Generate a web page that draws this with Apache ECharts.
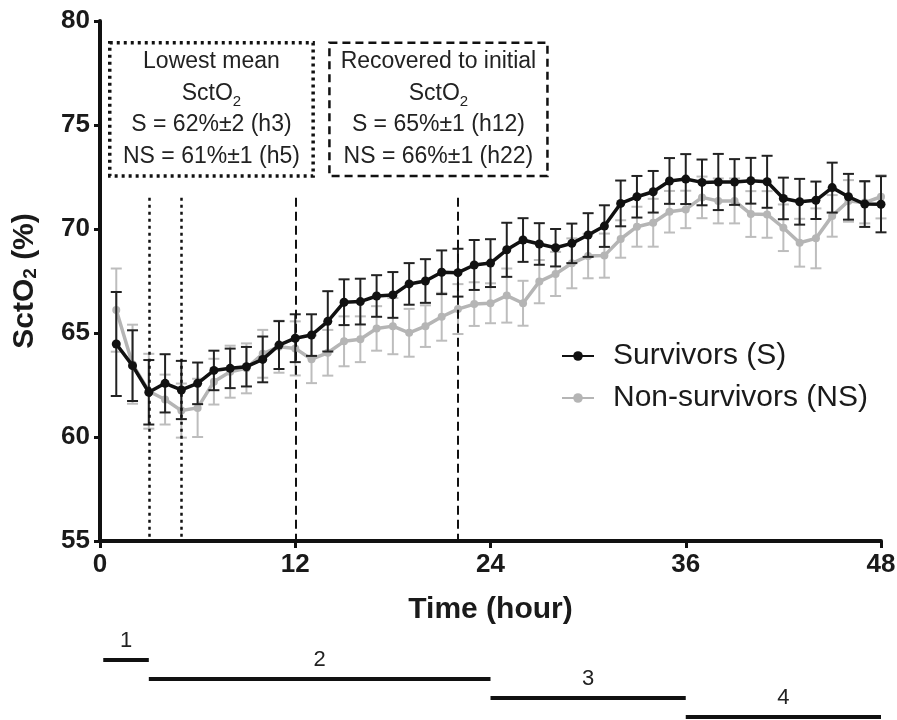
<!DOCTYPE html>
<html>
<head>
<meta charset="utf-8">
<script src="https://cdn.jsdelivr.net/npm/echarts@6/dist/echarts.min.js"></script>
<style>
  html, body { margin: 0; background: #fff; }
  #chart { width: 897px; height: 720px; }
</style>
</head>
<body>
<div id="chart"></div>
<script>
// hourly SctO2 means and SEM
const hours = [1, 2, 3, 4, 5, 6, 7, 8, 9, 10, 11, 12, 13, 14, 15, 16, 17, 18, 19, 20, 21, 22, 23, 24,
  25, 26, 27, 28, 29, 30, 31, 32, 33, 34, 35, 36, 37, 38, 39, 40, 41, 42, 43, 44, 45, 46, 47, 48];
const survMean = [64.47, 63.43, 62.15, 62.58, 62.26, 62.58, 63.2, 63.3, 63.38, 63.73, 64.42, 64.75,
  64.9, 65.56, 66.48, 66.51, 66.78, 66.83, 67.36, 67.5, 67.92, 67.9, 68.27, 68.36,
  69.0, 69.47, 69.28, 69.1, 69.31, 69.71, 70.14, 71.23, 71.55, 71.79, 72.31, 72.4,
  72.24, 72.26, 72.26, 72.32, 72.27, 71.47, 71.31, 71.38, 71.99, 71.55, 71.2, 71.19];
const survSem = [2.5, 1.7, 1.55, 1.4, 1.4, 1.0, 0.95, 0.95, 0.95, 1.1, 1.15, 1.15,
  1.0, 1.45, 1.1, 1.1, 1.0, 1.1, 1.0, 1.05, 1.05, 1.15, 1.2, 1.15,
  1.3, 1.05, 1.0, 0.9, 0.95, 1.05, 1.0, 1.1, 1.0, 1.0, 1.1, 1.2,
  1.1, 1.35, 1.1, 1.1, 1.25, 1.0, 1.1, 0.9, 1.2, 1.1, 1.1, 1.35];
const nonSurvMean = [66.1, 63.5, 62.2, 61.8, 61.27, 61.4, 62.66, 63.14, 63.3, 64.0, 64.34, 64.26,
  63.74, 64.05, 64.6, 64.7, 65.22, 65.33, 65.01, 65.33, 65.78, 66.15, 66.39, 66.43,
  66.8, 66.43, 67.47, 67.84, 68.35, 68.7, 68.72, 69.52, 70.11, 70.3, 70.83, 70.94,
  71.52, 71.35, 71.35, 70.72, 70.7, 70.06, 69.34, 69.55, 70.63, 71.35, 71.27, 71.55];
const nonSurvSem = [2.0, 1.9, 1.8, 1.2, 1.3, 1.4, 1.1, 1.25, 1.2, 1.15, 1.25, 1.3,
  1.15, 1.1, 1.2, 1.1, 1.07, 1.35, 1.15, 1.0, 1.15, 1.2, 1.05, 0.96,
  1.3, 1.08, 1.04, 1.06, 1.2, 1.07, 1.06, 0.9, 0.96, 1.15, 1.0, 0.9,
  1.0, 1.08, 1.08, 1.1, 1.12, 1.12, 1.15, 1.44, 1.0, 1.0, 1.0, 1.04];

// vertical event markers (hour, kind)
const eventHours = [3, 5, 12, 22];
const eventKinds = ['lowest', 'lowest', 'recovered', 'recovered'];
const eventTop = 71.5;

// annotation boxes in data units
const boxKinds = ['lowest', 'recovered'];
const boxX = [[0.6, 13.1], [14.1, 27.5]];
const boxY = [72.55, 78.95];
const boxText = [
  'Lowest mean\nSctO{sub|2}\nS = 62%±2 (h3)\nNS = 61%±1 (h5)',
  'Recovered to initial\nSctO{sub|2}\nS = 65%±1 (h12)\nNS = 66%±1 (h22)'
];

// phases under the time axis
const phaseNames = ['1', '2', '3', '4'];
const phaseStart = [0.2, 3, 24, 36];
const phaseEnd = [3, 24, 36, 48];
const phaseLevel = [1, 2, 3, 4];

const FONT = 'Liberation Sans, Arial, sans-serif';

const chart = echarts.init(document.getElementById('chart'));

function errData(mean, sem) {
  return hours.map((h, i) => [h, mean[i] - sem[i], mean[i] + sem[i]]);
}

function errorBars(color) {
  return function (params, api) {
    const lo = api.coord([api.value(0), api.value(1)]);
    const hi = api.coord([api.value(0), api.value(2)]);
    const w = 5.5;
    const style = { stroke: color, lineWidth: 2 };
    return {
      type: 'group',
      children: [
        { type: 'line', shape: { x1: lo[0], y1: lo[1], x2: hi[0], y2: hi[1] }, style },
        { type: 'line', shape: { x1: hi[0] - w, y1: hi[1], x2: hi[0] + w, y2: hi[1] }, style },
        { type: 'line', shape: { x1: lo[0] - w, y1: lo[1], x2: lo[0] + w, y2: lo[1] }, style }
      ]
    };
  };
}

const boxStyle = {
  lowest: { borderType: [3, 4], borderWidth: 3.5 },
  recovered: { borderType: [8, 5], borderWidth: 2.5 }
};
const eventStyle = {
  lowest: { type: [3, 4], width: 2.5 },
  recovered: { type: [9, 5], width: 2 }
};

const option = {
  animation: false,
  backgroundColor: '#fff',
  textStyle: { fontFamily: FONT },
  grid: [
    { left: 100, right: 16, top: 21, bottom: 179, outerBoundsMode: 'none', containLabel: false },
    { left: 100, right: 16, top: 641, height: 76, outerBoundsMode: 'none', containLabel: false }
  ],
  legend: {
    orient: 'vertical',
    left: 556,
    top: 336,
    itemWidth: 32,
    itemHeight: 12,
    itemGap: 12,
    data: ['Survivors (S)', 'Non-survivors (NS)'],
    textStyle: { fontSize: 30, color: '#1a1a1a', fontFamily: FONT, padding: [0, 0, 0, 14] }
  },
  xAxis: [
    {
      type: 'value', gridIndex: 0, min: 0, max: 48, interval: 12,
      name: 'Time (hour)', nameLocation: 'middle', nameGap: 54,
      nameTextStyle: { fontSize: 30, fontWeight: 'bold', color: '#1a1a1a', fontFamily: FONT },
      axisLine: { lineStyle: { color: '#111', width: 4 } },
      axisTick: { length: 7, lineStyle: { color: '#111', width: 3 } },
      axisLabel: { fontSize: 26, fontWeight: 'bold', color: '#1a1a1a', margin: 11, fontFamily: FONT },
      splitLine: { show: false }
    },
    { type: 'value', gridIndex: 1, min: 0, max: 48, show: false }
  ],
  yAxis: [
    {
      type: 'value', gridIndex: 0, min: 55, max: 80, interval: 5,
      name: 'SctO{sub|2} (%)', nameLocation: 'middle', nameGap: 60, nameRotate: 90,
      nameTextStyle: {
        fontSize: 30, fontWeight: 'bold', color: '#1a1a1a', fontFamily: FONT,
        rich: { sub: { fontSize: 19, fontWeight: 'bold', color: '#1a1a1a', fontFamily: FONT, verticalAlign: 'bottom', lineHeight: 22 } }
      },
      axisLine: { show: true, lineStyle: { color: '#111', width: 4 } },
      axisTick: { show: true, length: 6, lineStyle: { color: '#111', width: 3 } },
      axisLabel: { fontSize: 26, fontWeight: 'bold', color: '#1a1a1a', margin: 10, fontFamily: FONT },
      splitLine: { show: false }
    },
    { type: 'value', gridIndex: 1, min: 0, max: 4, inverse: true, show: false }
  ],
  series: [
    {
      name: 'NS error',
      type: 'custom',
      xAxisIndex: 0, yAxisIndex: 0,
      renderItem: errorBars('#bdbdbd'),
      data: errData(nonSurvMean, nonSurvSem),
      z: 2
    },
    {
      name: 'Non-survivors (NS)',
      type: 'line',
      data: hours.map((h, i) => [h, nonSurvMean[i]]),
      symbol: 'circle',
      symbolSize: 8,
      color: '#b5b5b5',
      lineStyle: { color: '#b5b5b5', width: 3.5 },
      itemStyle: { color: '#b5b5b5' },
      z: 3
    },
    {
      name: 'S error',
      type: 'custom',
      xAxisIndex: 0, yAxisIndex: 0,
      renderItem: errorBars('#222'),
      data: errData(survMean, survSem),
      z: 4
    },
    {
      name: 'Survivors (S)',
      type: 'line',
      data: hours.map((h, i) => [h, survMean[i]]),
      symbol: 'circle',
      symbolSize: 9,
      color: '#111',
      lineStyle: { color: '#111', width: 3.5 },
      itemStyle: { color: '#111' },
      z: 5,
      markLine: {
        silent: true,
        symbol: ['none', 'none'],
        label: { show: false },
        data: eventHours.map((h, i) => [
          { coord: [h, eventTop], lineStyle: Object.assign({ color: '#111' }, eventStyle[eventKinds[i]]) },
          { coord: [h, 55] }
        ])
      },
      markArea: {
        silent: true,
        data: boxKinds.map((k, i) => [
          {
            coord: [boxX[i][0], boxY[1]],
            itemStyle: Object.assign({ color: 'rgba(0,0,0,0)', borderColor: '#111' }, boxStyle[k]),
            label: {
              show: true,
              position: 'inside',
              formatter: boxText[i],
              fontSize: 23,
              lineHeight: 31.5,
              color: '#222',
              fontFamily: FONT,
              align: 'center',
              rich: { sub: { fontSize: 15, color: '#222', fontFamily: FONT, verticalAlign: 'bottom', lineHeight: 20 } }
            }
          },
          { coord: [boxX[i][1], boxY[0]] }
        ])
      }
    },
    {
      name: 'phases',
      type: 'custom',
      xAxisIndex: 1, yAxisIndex: 1,
      silent: true,
      data: phaseNames.map((n, i) => [phaseStart[i], phaseEnd[i], phaseLevel[i], n]),
      renderItem: function (params, api) {
        const a = api.coord([api.value(0), api.value(2)]);
        const b = api.coord([api.value(1), api.value(2)]);
        return {
          type: 'group',
          children: [
            { type: 'line', shape: { x1: a[0], y1: a[1], x2: b[0], y2: b[1] }, style: { stroke: '#111', lineWidth: 4 } },
            {
              type: 'text',
              style: {
                text: phaseNames[params.dataIndex],
                x: (a[0] + b[0]) / 2, y: a[1] - 8,
                align: 'center', verticalAlign: 'bottom',
                fontSize: 22, fill: '#222', fontFamily: FONT
              }
            }
          ]
        };
      }
    }
  ]
};

chart.setOption(option);
window.addEventListener('resize', () => chart.resize());
</script>
</body>
</html>
